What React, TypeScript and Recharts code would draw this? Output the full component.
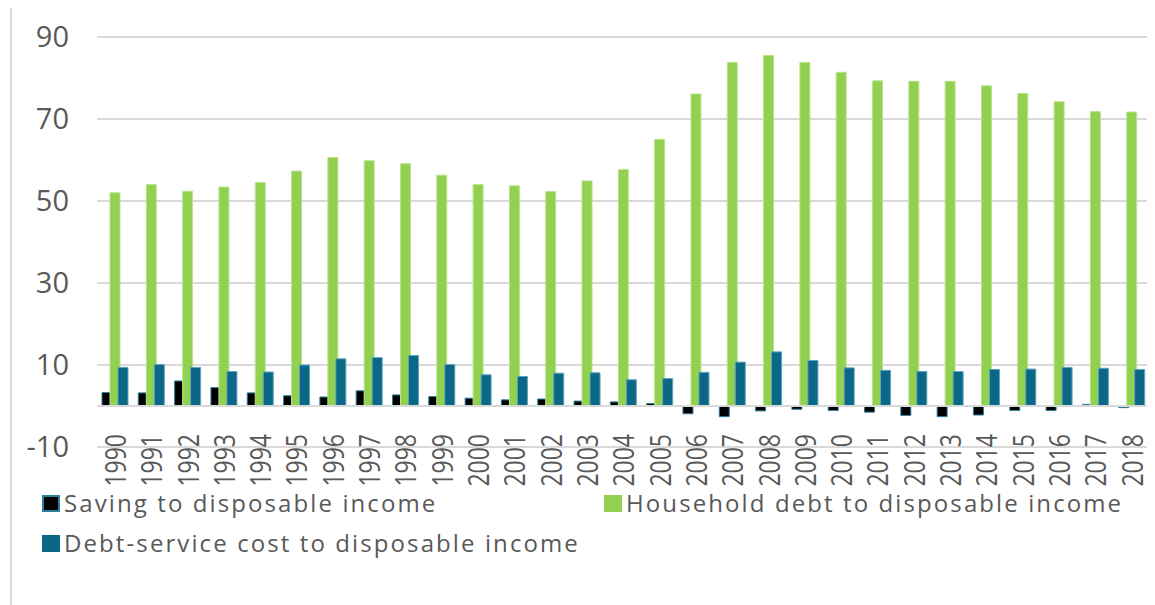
import React from "react";
import { BarChart, Bar, XAxis, YAxis, CartesianGrid, ReferenceLine, Legend } from "recharts";

const years = ["1990","1991","1992","1993","1994","1995","1996","1997","1998","1999","2000","2001","2002","2003","2004","2005","2006","2007","2008","2009","2010","2011","2012","2013","2014","2015","2016","2017","2018"];
const saving = [3.3,3.2,6.1,4.5,3.2,2.5,2.2,3.7,2.7,2.3,1.9,1.5,1.7,1.2,1.0,0.6,-1.9,-2.6,-1.2,-0.8,-1.1,-1.5,-2.3,-2.6,-2.2,-1.1,-1.1,0.4,-0.4];
const householdDebt = [52.0,54.0,52.4,53.4,54.5,57.3,60.6,59.8,59.1,56.3,54.0,53.7,52.3,54.9,57.7,65.0,76.1,83.8,85.5,83.8,81.4,79.3,79.2,79.2,78.1,76.2,74.2,71.8,71.7];
const debtService = [9.4,10.1,9.4,8.4,8.3,10.0,11.5,11.8,12.3,10.1,7.6,7.2,8.0,8.1,6.4,6.7,8.2,10.7,13.2,11.1,9.3,8.7,8.4,8.4,8.9,9.0,9.4,9.2,8.9];
const yTicks = [-10, 10, 30, 50, 70, 90];
const seriesNames = ["Saving to disposable income", "Household debt to disposable income", "Debt-service cost to disposable income"];

const data = years.map((y, i) => ({
  year: y,
  saving: saving[i],
  debt: householdDebt[i],
  service: debtService[i],
}));

const FONT = "'Open Sans', sans-serif";
const TEXT = "#595959";
const W = 1155;
const H = 605;
const M = { top: 37, right: 5, bottom: 0, left: 0 };
const LEGEND_H = 117;
const XAXIS_H = 41;
const PLOT_H = H - M.top - M.bottom - LEGEND_H - XAXIS_H;
const Y_MIN = -10;
const Y_MAX = 90;

const XTick = (props: any) => {
  const { x, y, payload } = props;
  const zeroUp = (PLOT_H * (0 - Y_MIN)) / (Y_MAX - Y_MIN);
  const ty = y - zeroUp + 20;
  return (
    <text
      x={0}
      y={0}
      transform={`translate(${x}, ${ty}) rotate(-90) scale(1, 1.3)`}
      textAnchor="end"
      dy="0.36em"
      fontFamily={FONT}
      fontSize={23}
      fill={TEXT}
    >
      {payload.value}
    </text>
  );
};

const colors = ["#000000", "#92d050", "#0a6785"];
const strokes = ["#2e7f9c", "#b9e38e", "#5ea3bb"];

const LegendContent = () => {
  const items = [
    { name: seriesNames[0], c: colors[0], s: strokes[0], left: 42, top: 0 },
    { name: seriesNames[1], c: colors[1], s: colors[1], left: 604, top: 0 },
    { name: seriesNames[2], c: colors[2], s: colors[2], left: 42, top: 40 },
  ];
  return (
    <div style={{ position: "relative", height: LEGEND_H, width: W }}>
      {items.map((it) => (
        <div
          key={it.name}
          style={{
            position: "absolute",
            left: it.left,
            top: it.top,
            display: "flex",
            alignItems: "center",
            fontFamily: FONT,
            fontSize: 24,
            letterSpacing: 2.1,
            color: TEXT,
            whiteSpace: "nowrap",
            lineHeight: "30px",
          }}
        >
          <span
            style={{
              display: "inline-block",
              flexShrink: 0,
              width: 18,
              height: 17,
              background: it.c,
              border: `2px solid ${it.s}`,
              marginRight: 4,
              boxSizing: "border-box",
            }}
          />
          {it.name}
        </div>
      ))}
    </div>
  );
};

export default function App() {
  return (
    <div style={{ position: "relative", width: W, height: H, marginLeft: -8, marginTop: -8, overflow: "hidden", background: "#fff" }}>
      <div
        style={{
          position: "absolute",
          left: 10,
          top: 6,
          width: W,
          height: H,
          borderLeft: "2px solid #d9d9d9",
          borderTop: "2px solid #d9d9d9",
          boxSizing: "border-box",
        }}
      />
      <BarChart width={W} height={H} data={data} margin={M} barSize={10} barGap={-2} style={{ position: "absolute", left: 0, top: 0 }}>
        <CartesianGrid horizontal vertical={false} stroke="#d9d9d9" strokeWidth={2} />
        <XAxis dataKey="year" height={XAXIS_H} axisLine={false} tickLine={false} tick={<XTick />} interval={0} />
        <YAxis
          type="number"
          domain={[Y_MIN, Y_MAX]}
          ticks={yTicks}
          width={97}
          axisLine={false}
          tickLine={false}
          tickMargin={22}
          tick={{ fontFamily: FONT, fontSize: 29, fill: TEXT }}
          interval={0}
        />
        <ReferenceLine y={0} stroke="#d9d9d9" strokeWidth={2} />
        <Legend verticalAlign="bottom" content={<LegendContent />} wrapperStyle={{ left: 0, width: W }} />
        <Bar dataKey="saving" name={seriesNames[0]} fill={colors[0]} stroke={strokes[0]} strokeWidth={1} isAnimationActive={false} />
        <Bar dataKey="debt" name={seriesNames[1]} fill={colors[1]} stroke={strokes[1]} strokeWidth={1} isAnimationActive={false} />
        <Bar dataKey="service" name={seriesNames[2]} fill={colors[2]} stroke={strokes[2]} strokeWidth={1} isAnimationActive={false} />
      </BarChart>
    </div>
  );
}
